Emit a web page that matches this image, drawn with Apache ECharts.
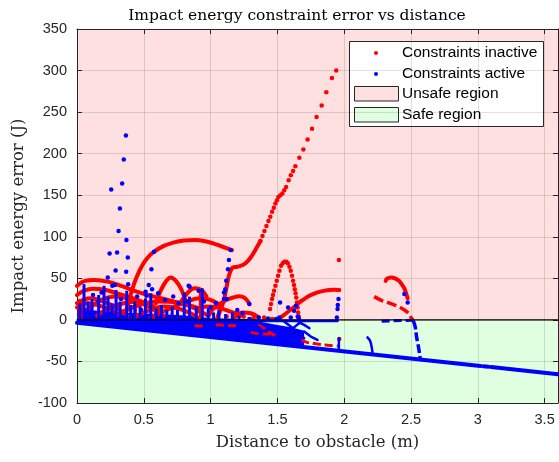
<!DOCTYPE html>
<html>
<head>
<meta charset="utf-8">
<script src="https://cdn.jsdelivr.net/npm/echarts@6/dist/echarts.min.js"></script>
<style>html,body{margin:0;padding:0;background:#fff;}#c{width:559px;height:462px;}</style>
</head>
<body>
<div id="c"></div>
<script>
// ---------- axis ticks ----------
const xTicks = [0, 0.5, 1, 1.5, 2, 2.5, 3, 3.5];
const yTicks = [-100, -50, 0, 50, 100, 150, 200, 250, 300, 350];

// ---------- regions [xMin, xMax, yMin, yMax] ----------
const unsafeRegion = [0, 3.6, 0, 350];
const safeRegion = [0, 3.6, -100, 0];

// ---------- dense blue areas (polygons) ----------
const blueBand = [[0,0],[1.28,0],[1.4,-3],[1.5,-6],[1.6,-9],[1.7,-13],[1.7,-32.7],[0,-3.5]];
const blueLowCluster = [[0,0],[0,19],[0.04,16],[0.1,12],[0.2,10],[0.3,9],[0.45,8],[0.6,7],[0.75,6],[0.9,4],[1.0,2],[1.3,1],[1.3,0]];

// ---------- blue lines (constraints active) ----------
const diag1 = [[0,-3.5],[3.02,-55.4]];
const diag2 = [[3.04,-55.8],[3.08,-56.5]];
const diag3 = [[3.1,-56.8],[3.6,-65.4]];
const blueZeroLine = [[1.2,-1.2],[1.95,-1.2]];
const blueZeroDash = [[2.28,-1.5],[2.51,-0.5]];
const blueV1 = [[1.34,-1],[1.44,-10],[1.54,-21]];
const blueV2 = [[1.68,-2],[1.6,-12],[1.52,-23]];
const blueV3 = [[1.55,-2],[1.6,-8],[1.65,-15],[1.7,-22]];
const blueBits1 = [[1.7,-14],[1.75,-20],[1.8,-24]];
const blueBits2 = [[1.66,-3],[1.7,-6],[1.74,-10]];
const blueDrop = [[2.517,-1],[2.532,-9],[2.542,-21],[2.552,-29],[2.562,-39],[2.568,-46]];
const blueHook = [[2.174,-21],[2.19,-24],[2.2,-28],[2.207,-34],[2.212,-40]];
const blueShort = [[1.96,-22],[1.96,-36]];

// vertical blue streaks: [x, top]
const blueStreaks = [[0.01,20],[0.04,43],[0.07,22],[0.1,25],[0.15,30],[0.19,41],[0.22,28],[0.25,20],[0.28,36],[0.31,22],[0.36,35],[0.39,18],[0.42,22],[0.46,16],[0.5,26],[0.54,32],[0.58,14],[0.62,18],[0.66,12],[0.7,16],[0.74,12],[0.79,33],[0.83,28],[0.88,16],[0.925,38],[0.97,14],[1.01,9],[1.05,12],[1.1,7],[1.15,9],[1.2,5]];

// blue dots
const blueDots = [[0.366,222],[0.35,193],[0.338,164],[0.256,157],[0.321,134],[0.311,107],[0.37,96],[0.244,80],[0.30,81],[0.38,75],[0.289,59.5],[0.368,58],[0.23,51],[0.557,61],[0.577,82],[0.537,42],[0.562,37],[0.383,43],[0.284,42],[0.264,41],[0.184,33],[0.513,34],[0.52,29],[0.607,32],[0.836,41],[0.843,40],[0.91,35],[0.83,22],[1.10,33],[1.12,25],[1.10,25],[1.11,37],[1.117,47],[1.13,61],[1.137,72],[1.15,84],[1.52,21],[1.58,15],[1.625,11],[1.64,17],[1.652,4],[1.515,3],[1.49,1],[1.43,1.6],[1.29,19],[1.29,1],[1.36,3],[1.6,3],[1.66,2],[1.957,25],[1.952,18],[1.95,13],[1.945,3],[2.45,31],[2.475,21],[0.12,30],[0.16,22],[0.33,25],[0.45,28],[0.48,12],[0.66,24],[0.72,28],[0.76,20],[0.95,22],[1.0,15],[1.04,20],[1.2,12],[1.24,8]];

// ---------- red lines (constraints inactive) ----------
const arcBig = [[0.37,12],[0.383,19],[0.41,35],[0.445,51],[0.49,66],[0.53,75],[0.577,82],[0.65,89],[0.72,93],[0.8,95.5],[0.88,96],[0.95,95],[1.02,92],[1.09,88],[1.16,84]];
const arcRiseLow = [[1.055,5],[1.072,11],[1.09,19],[1.104,27],[1.12,40],[1.135,52],[1.15,59],[1.166,63],[1.2,64],[1.241,66],[1.28,71],[1.316,79],[1.345,87],[1.373,95]];
const arcLowRight = [[1.5,0],[1.55,6],[1.589,11],[1.63,16],[1.664,21],[1.70,25],[1.739,29],[1.78,32],[1.813,33.7],[1.85,35],[1.888,36],[1.925,36.3],[1.963,36]];
const arcG = [[0.99,6],[1.017,13],[1.07,19],[1.117,24],[1.17,27],[1.216,28.5],[1.25,27],[1.275,23],[1.29,19]];
const arcA = [[0,41],[0.06,47],[0.13,48],[0.23,46],[0.33,41],[0.43,35],[0.53,30],[0.63,26],[0.73,22],[0.83,18],[0.93,13]];
const arcB = [[0,30],[0.05,35],[0.12,37.5],[0.2,36.5],[0.3,32],[0.4,27],[0.5,21],[0.58,15]];
const arcC = [[0.59,20],[0.62,33],[0.66,45],[0.70,51],[0.74,47],[0.78,37],[0.81,24]];
const arcD = [[0.08,12],[0.18,24],[0.28,28],[0.38,26],[0.48,20],[0.58,12],[0.65,5]];
const arcE = [[0.3,6],[0.45,17],[0.6,22],[0.75,21],[0.88,14],[0.97,6]];
const arcF = [[0.55,3],[0.7,14],[0.82,22],[0.92,26],[1.0,24],[1.08,17]];
const arcH = [[0.0,20],[0.1,26],[0.2,22],[0.3,14],[0.38,5]];
const arcI = [[0.78,22],[0.83,33],[0.88,38],[0.93,36],[0.97,28]];
const arcK = [[0,15],[0.08,20],[0.15,18],[0.25,12],[0.32,6]];
const arcL = [[0.15,5],[0.25,15],[0.35,20],[0.45,22],[0.55,18],[0.62,10]];
const arcM = [[0.45,5],[0.55,12],[0.65,16],[0.75,14],[0.85,8],[0.9,3]];
const arcO = [[0.9,10],[0.97,16],[1.05,15],[1.15,10],[1.25,4]];
const arcP = [[1.18,3],[1.24,9],[1.3,8],[1.36,3]];
const arcTopRight = [[2.31,47],[2.32,49.5],[2.35,51],[2.38,50],[2.41,47],[2.43,43],[2.45,38],[2.465,31],[2.475,26]];
const redDash = [[2.224,28],[2.286,23],[2.36,19],[2.42,15],[2.475,9],[2.5,3],[2.517,-1]];
const redBelow1 = [[0.88,-7],[0.97,-7.5]];
const redBelow2 = [[1.04,-6],[1.19,-7]];
const redBelow3 = [[1.36,-5],[1.41,-11],[1.46,-17],[1.5,-21]];
const redBelow4 = [[1.3,-15],[1.4,-17],[1.5,-16]];
const redBelow5 = [[1.68,-24],[1.72,-27],[1.8,-29],[1.88,-30.5],[1.96,-31.5]];

// vertical red streaks: [x, top]
const redStreaks = [[0.03,25],[0.05,22],[0.45,15],[0.6,12],[0.935,35]];

// red dots
const redRise = [[1.373,95],[1.388,101],[1.403,107],[1.418,113],[1.433,119],[1.447,124],[1.46,130],[1.473,135],[1.485,140],[1.497,144],[1.507,148],[1.522,150],[1.537,152],[1.551,156],[1.565,160],[1.584,168],[1.60,174],[1.617,179],[1.634,185],[1.664,195],[1.694,205],[1.726,217],[1.759,230],[1.793,244],[1.831,258],[1.866,274],[1.908,291],[1.940,300]];
const redHump = [[1.445,13],[1.452,19],[1.46,25],[1.467,30],[1.475,35],[1.485,41],[1.495,47],[1.505,53],[1.515,59],[1.527,65],[1.54,68],[1.553,70],[1.566,70],[1.578,68],[1.59,64],[1.6,59],[1.609,53],[1.617,47],[1.624,42],[1.63,37],[1.636,32],[1.641,27],[1.646,21],[1.651,15],[1.655,9],[1.659,4]];
const redSingles = [[1.96,72],[1.963,-23],[1.32,2],[1.4,3],[1.46,1],[1.12,4],[1.05,2]];

const zeroLine = [[0,0],[3.6,0]];

// ---------- colours ----------
const RED = '#ff0000', BLUE = '#0000ff';
const PINK = '#ffe0e0', GREEN = '#e0ffe0';
const AX = '#262626';

const chart = echarts.init(document.getElementById('c'), null, {renderer: 'canvas'});

function regionSeries(r, color) {
  return {
    type: 'custom', z: -1, silent: true, data: [[0, 0]],
    renderItem: function (params, api) {
      const p1 = api.coord([r[0], r[3]]);
      const p2 = api.coord([r[1], r[2]]);
      return {type: 'rect', shape: {x: p1[0], y: p1[1], width: p2[0] - p1[0], height: p2[1] - p1[1]}, style: {fill: color}};
    }
  };
}
function polySeries(pts, color, z) {
  return {
    type: 'custom', z: z, silent: true, data: [[0, 0]],
    renderItem: function (params, api) {
      return {type: 'polygon', shape: {points: pts.map(function (p) { return api.coord(p); })}, style: {fill: color}};
    }
  };
}
function lineSeries(data, color, width, z, extra) {
  const s = {
    type: 'line', data: data, symbol: 'none', smooth: 0.4, silent: true, z: z,
    lineStyle: {color: color, width: width, cap: 'round', join: 'round'}, itemStyle: {color: color}
  };
  return Object.assign(s, extra || {});
}
function dotSeries(data, color, z) {
  return {type: 'scatter', data: data, symbolSize: 4.5, silent: true, z: z, itemStyle: {color: color, opacity: 1}};
}
function streakSeries(data, color, z) {
  return {type: 'bar', data: data, barWidth: 3, silent: true, z: z, itemStyle: {color: color}};
}

const series = [];
series.push(regionSeries(unsafeRegion, PINK));
series.push(regionSeries(safeRegion, GREEN));
series.push(polySeries(blueBand, BLUE, 3));
series.push(polySeries(blueLowCluster, BLUE, 3));
[diag1, diag2, diag3].forEach(function (d) { series.push(lineSeries(d, BLUE, 4, 6, {smooth: false})); });
// red lines
[arcA, arcB, arcC, arcD, arcE, arcF, arcH, arcI, arcK, arcL, arcM, arcO, arcP, arcG, arcBig, arcRiseLow, arcLowRight, arcTopRight].forEach(function (d) {
  series.push(lineSeries(d, RED, 4, 4));
});
[redBelow1, redBelow2, redBelow3, redBelow4, redBelow5].forEach(function (d) {
  series.push(lineSeries(d, RED, 3, 4, {lineStyle: {color: RED, width: 3, type: [8, 4]}}));
});
series.push(lineSeries(redDash, RED, 3.5, 4, {lineStyle: {color: RED, width: 3.5, type: [10, 4]}}));
series.push(streakSeries(redStreaks, RED, 4));
series.push(dotSeries(redRise, RED, 4));
series.push(dotSeries(redHump, RED, 4));
series.push(dotSeries(redSingles, RED, 4));
// blue on top
series.push(streakSeries(blueStreaks, BLUE, 5));
[blueZeroLine, blueV1, blueV2, blueV3, blueBits1, blueBits2, blueHook, blueShort].forEach(function (d) {
  series.push(lineSeries(d, BLUE, 2.5, 5, {smooth: false}));
});
series.push(lineSeries(blueZeroDash, BLUE, 3, 5, {smooth: false, lineStyle: {color: BLUE, width: 3, type: [8, 4]}}));
series.push(lineSeries(blueDrop, BLUE, 3.5, 5, {lineStyle: {color: BLUE, width: 3.5, type: [9, 3]}}));
series.push(dotSeries(blueDots, BLUE, 5));
// zero line
series.push(lineSeries(zeroLine, '#000000', 1.3, 8, {smooth: false}));

const tickFont = {fontFamily: 'Liberation Sans', fontSize: 14.5, color: AX};
const gridLine = {show: true, lineStyle: {color: 'rgba(38,38,38,0.15)', width: 1}};

const option = {
  animation: false,
  backgroundColor: '#ffffff',
  title: {
    text: 'Impact energy constraint error vs distance',
    left: 292, top: 3, textAlign: 'center',
    textStyle: {fontFamily: 'DejaVu Serif', fontSize: 15.5, fontWeight: 'normal', color: '#000'}
  },
  grid: {left: 77, right: 1, top: 29, bottom: 59, containLabel: false},
  xAxis: [{
    type: 'value', min: xTicks[0], max: 3.6, interval: 0.5,
    name: 'Distance to obstacle (m)', nameLocation: 'middle', nameGap: 31,
    nameTextStyle: {fontFamily: 'DejaVu Serif', fontSize: 16.5, color: AX},
    axisLine: {show: true, onZero: false, lineStyle: {color: AX, width: 1}},
    axisTick: {show: true, inside: true, length: 5, lineStyle: {color: AX}},
    axisLabel: Object.assign({margin: 9, showMaxLabel: false}, tickFont),
    splitLine: gridLine
  }, {
    type: 'value', position: 'top', min: 0, max: 3.6, interval: 0.5,
    axisLine: {show: true, onZero: false, lineStyle: {color: AX, width: 1}},
    axisTick: {show: true, inside: true, length: 5, lineStyle: {color: AX}},
    axisLabel: {show: false}, splitLine: {show: false}
  }],
  yAxis: [{
    type: 'value', min: yTicks[0], max: yTicks[yTicks.length - 1], interval: 50,
    name: 'Impact energy error (J)', nameLocation: 'middle', nameGap: 44,
    nameTextStyle: {fontFamily: 'DejaVu Serif', fontSize: 16.5, color: AX},
    axisLine: {show: true, onZero: false, lineStyle: {color: AX, width: 1}},
    axisTick: {show: true, inside: true, length: 5, lineStyle: {color: AX}},
    axisLabel: Object.assign({margin: 10}, tickFont),
    splitLine: gridLine
  }, {
    type: 'value', position: 'right', min: -100, max: 350, interval: 50,
    axisLine: {show: true, onZero: false, lineStyle: {color: AX, width: 1}},
    axisTick: {show: true, inside: true, length: 5, lineStyle: {color: AX}},
    axisLabel: {show: false}, splitLine: {show: false}
  }],
  series: series,
  graphic: [{
    type: 'group', z: 100, children: [
      {type: 'rect', shape: {x: 349.5, y: 41.5, width: 194, height: 85}, style: {fill: '#ffffff', stroke: AX, lineWidth: 1}},
      {type: 'circle', shape: {cx: 376, cy: 53, r: 2}, style: {fill: RED}},
      {type: 'text', x: 402, y: 53, style: {text: 'Constraints inactive', font: '15.5px "Liberation Sans"', fill: '#000', verticalAlign: 'middle'}},
      {type: 'circle', shape: {cx: 376, cy: 74, r: 2}, style: {fill: BLUE}},
      {type: 'text', x: 402, y: 74, style: {text: 'Constraints active', font: '15.5px "Liberation Sans"', fill: '#000', verticalAlign: 'middle'}},
      {type: 'rect', shape: {x: 354.5, y: 86.5, width: 44, height: 14.5}, style: {fill: PINK, stroke: AX, lineWidth: 1}},
      {type: 'text', x: 402, y: 94, style: {text: 'Unsafe region', font: '15.5px "Liberation Sans"', fill: '#000', verticalAlign: 'middle'}},
      {type: 'rect', shape: {x: 354.5, y: 107.5, width: 44, height: 14.5}, style: {fill: GREEN, stroke: AX, lineWidth: 1}},
      {type: 'text', x: 402, y: 115, style: {text: 'Safe region', font: '15.5px "Liberation Sans"', fill: '#000', verticalAlign: 'middle'}}
    ]
  }]
};
chart.setOption(option);
</script>
</body>
</html>
